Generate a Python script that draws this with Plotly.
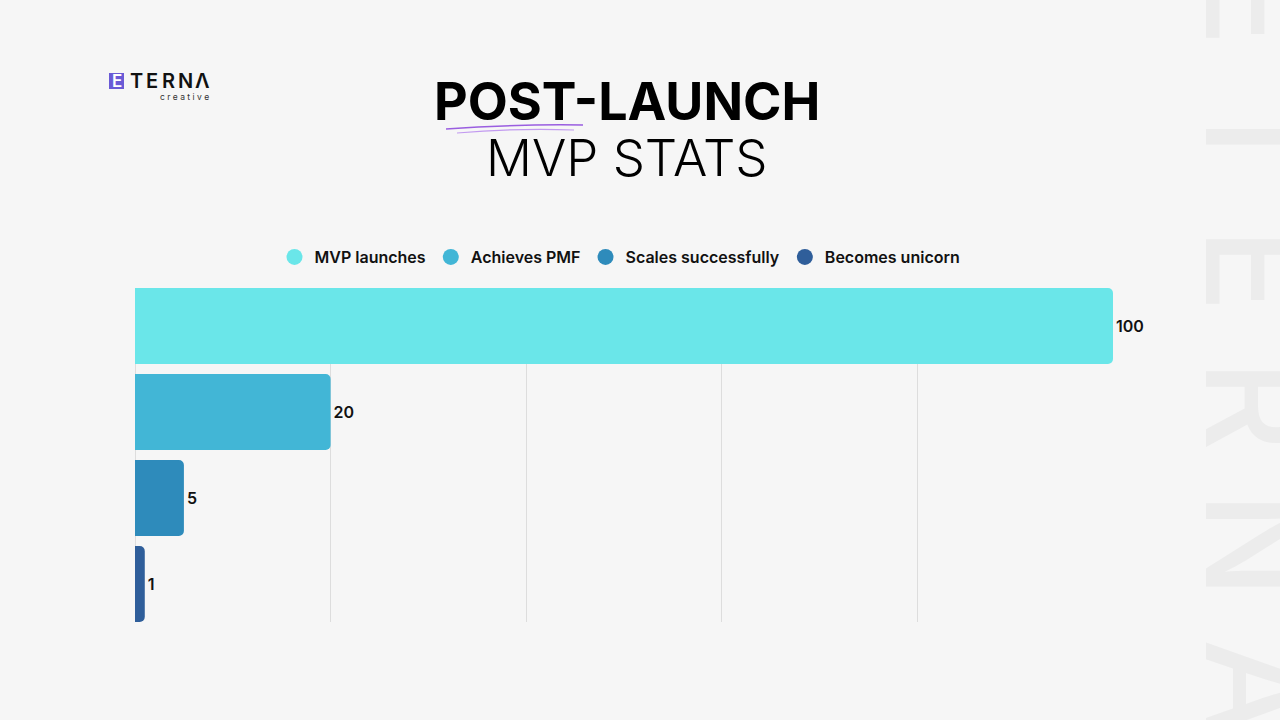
import plotly.graph_objects as go

# ---- data ----
categories = ["MVP launches", "Achieves PMF", "Scales successfully", "Becomes unicorn"]
values = [100, 20, 5, 1]
bar_colors = ["#6ae6e9", "#42b6d6", "#2e8bbb", "#2f5e9a"]
x_ticks = [0, 20, 40, 60, 80, 100]
watermark_letters = ["E", "T", "E", "R", "N", "A"]
watermark_centers = [4, 136, 270, 405, 545, 688]   # pixel y-centres of letters

W, H = 1280, 720
L, R, T, B = 135, 1113, 288, 622
BG = "#f6f6f6"
FONT = "Inter"


def px(x):
    return (x - L) / (R - L)


def py(y):
    return (B - y) / (B - T)


bar_w = 76 / 86
positions = list(range(len(categories)))

fig = go.Figure()
fig.add_trace(go.Bar(
    y=positions, x=values, orientation="h", width=bar_w,
    marker=dict(color=bar_colors, cornerradius=5, line=dict(width=0)),
    text=[str(v) for v in values], textposition="outside",
    textfont=dict(family=FONT, size=16, color="#111111", weight=600),
    cliponaxis=False, showlegend=False, hoverinfo="skip",
))
for name, col in zip(categories, bar_colors):
    fig.add_trace(go.Scatter(
        x=[None], y=[None], mode="markers", name=name,
        marker=dict(symbol="circle", size=16, color=col),
    ))

annotations = []
shapes = []

# title
annotations.append(dict(text="POST-LAUNCH", x=px(627), y=py(102), xref="paper", yref="paper",
                        showarrow=False, xanchor="center", yanchor="middle",
                        font=dict(family=FONT, size=52, color="#000000", weight=700)))
annotations.append(dict(text="MVP STATS", x=px(627), y=py(157), xref="paper", yref="paper",
                        showarrow=False, xanchor="center", yanchor="middle",
                        font=dict(family=FONT, size=51, color="#000000", weight=300)))
# underline strokes
shapes.append(dict(type="path", xref="paper", yref="paper",
                   path=f"M {px(446)} {py(129)} Q {px(515)} {py(124)} {px(583)} {py(125)}",
                   line=dict(color="#9a5ee0", width=1.5)))
shapes.append(dict(type="path", xref="paper", yref="paper",
                   path=f"M {px(457)} {py(133)} Q {px(515)} {py(128)} {px(574)} {py(130)}",
                   line=dict(color="#c29af0", width=1.2)))

# logo
shapes.append(dict(type="rect", xref="paper", yref="paper",
                   x0=px(109), x1=px(124), y0=py(89), y1=py(73),
                   fillcolor="#6a5ad6", line=dict(width=0)))
annotations.append(dict(text="E", x=px(116.5), y=py(81), xref="paper", yref="paper",
                        showarrow=False, xanchor="center", yanchor="middle",
                        font=dict(family=FONT, size=17, color="#ffffff", weight=600)))
for ch, cx in zip(["T", "E", "R", "N", "Λ"], [136, 152, 168, 185, 202]):
    annotations.append(dict(text=ch, x=px(cx), y=py(81), xref="paper", yref="paper",
                            showarrow=False, xanchor="center", yanchor="middle",
                            font=dict(family=FONT, size=20, color="#111111", weight=600)))
annotations.append(dict(text="c r e a t i v e", x=px(211), y=py(97), xref="paper", yref="paper",
                        showarrow=False, xanchor="right", yanchor="middle",
                        font=dict(family=FONT, size=8.5, color="#333333")))

# watermark
for ch, cy in zip(watermark_letters, watermark_centers):
    annotations.append(dict(text=ch, x=px(1170), y=py(cy), xref="paper", yref="paper",
                            showarrow=False, xanchor="left", yanchor="middle", textangle=90,
                            font=dict(family=FONT, size=140, color="#ececec", weight=500)))

fig.update_layout(
    width=W, height=H,
    margin=dict(l=L, r=W - R, t=T, b=H - B, pad=0),
    paper_bgcolor=BG, plot_bgcolor=BG,
    barmode="overlay",
    xaxis=dict(range=[0, 100], tickvals=x_ticks, showticklabels=False, showgrid=True,
               gridcolor="#dddddd", gridwidth=1, zeroline=True, zerolinecolor="#dddddd",
               zerolinewidth=1, showline=False, fixedrange=True),
    yaxis=dict(range=[len(categories) - 1 + bar_w / 2, -bar_w / 2], showticklabels=False,
               showgrid=False, zeroline=False, showline=False, fixedrange=True),
    legend=dict(orientation="h", x=px(620), xanchor="center", y=py(257), yanchor="middle",
                font=dict(family=FONT, size=16, color="#111111", weight=600),
                bgcolor="rgba(0,0,0,0)", itemclick=False),
    annotations=annotations, shapes=shapes,
    showlegend=True,
)

fig.write_html("out.html")
